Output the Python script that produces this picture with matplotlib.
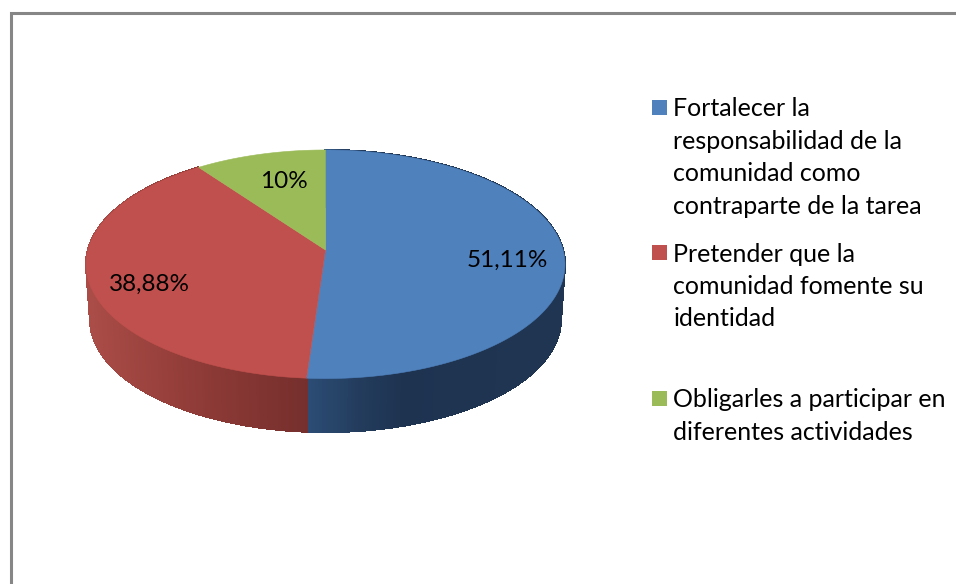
#!/usr/bin/env python

# Import external libraries
import numpy as np
import matplotlib
matplotlib.use('Agg')
import matplotlib.pyplot as plt
from matplotlib.patches import Rectangle

# Chart data
values = [51.11, 38.88, 10]
valuelabels = ['51,11%', '38,88%', '10%']
categories = ['Fortalecer la\nresponsabilidad de la\ncomunidad como\ncontraparte de la tarea',
              'Pretender que la\ncomunidad fomente su\nidentidad',
              'Obligarles a participar en\ndiferentes actividades']

# Style
colors = ['#4F81BD', '#C0504D', '#9BBB59']
wallxs = [[307, 355, 400, 561], [90, 200, 307]]
wallcolors = [[(0.17, 0.30, 0.46), (0.14, 0.24, 0.37), (0.115, 0.2, 0.315), (0.125, 0.21, 0.32)],
              [(0.67, 0.30, 0.28), (0.56, 0.23, 0.215), (0.46, 0.185, 0.175)]]
labelpos = [(507, 260), (149, 284), (284, 182)]
legendy = [157.5, 286.5, 416]
LINEPX = 32.7
FONT = 'Lato'

# Pie geometry in pixels, the top face is a circle seen in perspective
CX = 325.5
APEXY = 250
HALFX = 237.6
HALFY = 112.5
PERSP = 0.1247
DEPTH = 55.7
BOTSCALE = 0.983


# Project angles (clockwise from the top) onto the screen
#---------------------------------------------
def project(angles, scale=1.0, drop=0.0):
    xc = np.sin(angles)
    yc = np.cos(angles)
    den = 1 + PERSP * yc
    return CX + scale * HALFX * xc / den, APEXY + drop - scale * HALFY * yc / den


# Draw the side wall of a slice as thin shaded strips
#---------------------------------------------
def drawWall(ax, a0, a1, xstops, rgbstops):
    angles = np.linspace(a0, a1, 240)
    xtop, ytop = project(angles)
    xbot, ybot = project(angles, BOTSCALE, DEPTH)
    rgbstops = np.array(rgbstops)
    for i in range(len(angles) - 1):
        xmid = (xbot[i] + xbot[i+1]) / 2
        color = [np.interp(xmid, xstops, rgbstops[:, c]) for c in range(3)]
        ax.fill([xtop[i], xtop[i+1], xbot[i+1], xbot[i]],
                [ytop[i], ytop[i+1], ybot[i+1], ybot[i]],
                color=color, linewidth=0.8, antialiased=False, zorder=1)
        # Smooth outer edge
        ax.plot(xbot[i:i+2], ybot[i:i+2], color=color, linewidth=0.7, zorder=1)


fig = plt.figure(figsize=(9.56, 5.84), dpi=100)
ax = fig.add_axes([0, 0, 1, 1])
ax.set_xlim(0, 956)
ax.set_ylim(584, 0)
ax.axis('off')

# Chart border, only top and left are inside the picture
ax.plot([11, 11, 956], [584, 13, 13], color='#868686', linewidth=2.2, zorder=0,
        solid_joinstyle='miter')

# Slice limits from the values
fractions = np.array(values) / np.sum(values)
limits = 2 * np.pi * np.concatenate(([0], np.cumsum(fractions)))

# Side walls (blue and red are the only ones seen)
for i in range(2):
    drawWall(ax, limits[i], limits[i+1], wallxs[i], wallcolors[i])

# Top face
for i in range(len(values)):
    angles = np.linspace(limits[i], limits[i+1], 300)
    x, y = project(angles)
    ax.fill(np.append(x, CX), np.append(y, APEXY), color=colors[i], linewidth=0.4, zorder=2)

# Value labels
for i in range(len(values)):
    ax.text(labelpos[i][0], labelpos[i][1], valuelabels[i], family=FONT, fontsize=17.5,
            color='black', ha='center', va='center', zorder=3)

# Legend
for i in range(len(categories)):
    nlines = categories[i].count('\n') + 1
    firstline = legendy[i] - LINEPX * (nlines - 1) / 2
    ax.add_patch(Rectangle((652, firstline - 8.5), 15, 15, facecolor=colors[i], edgecolor='none'))
    ax.text(673.5, legendy[i], categories[i], family=FONT, fontsize=18, color='black',
            ha='left', va='center', linespacing=1.5)

fig.savefig('out.png', dpi=100)
